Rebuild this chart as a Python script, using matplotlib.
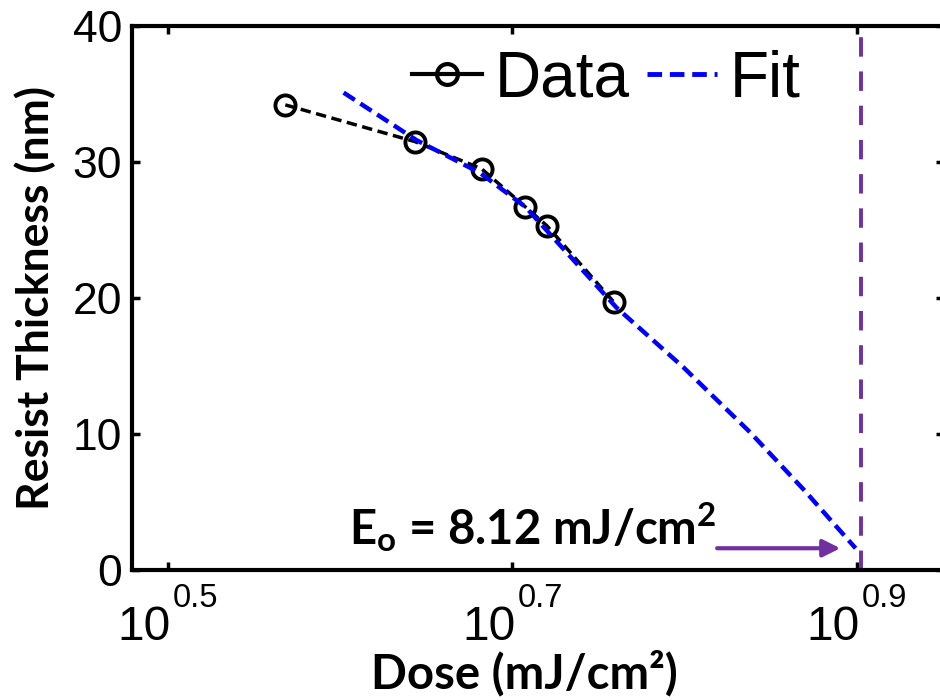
import numpy as np
import matplotlib.pyplot as plt
from matplotlib.lines import Line2D

# valores
dosis = [3.70, 4.40, 4.81, 5.10, 5.25, 5.74]
espesor = [34.2, 31.5, 29.5, 26.7, 25.3, 19.7]

ajuste_dosis = [4.00, 4.41, 4.80, 5.10, 5.76, 6.30, 6.89, 7.40, 7.93]
ajuste_espesor = [35.1, 31.6, 29.2, 26.7, 19.3, 14.9, 10.1, 5.9, 1.6]

e0_linea = 7.99
flecha_x = [6.59, 7.77]
flecha_y = 1.6
texto_x = 4.03
texto_y = 1.85

xticks = [10 ** 0.5, 10 ** 0.7, 10 ** 0.9]
xtick_exp = ['0.5', '0.7', '0.9']
yticks = [0, 10, 20, 30, 40]

plt.rcParams['font.family'] = ['Liberation Sans', 'DejaVu Sans']

morado = '#7030A0'

fig = plt.figure(figsize=(9.4, 7), dpi=100)
ax = fig.add_axes([132 / 940, 130 / 700, (944 - 132) / 940, 544 / 700])

ax.plot(dosis, espesor, color='black', linestyle='--', linewidth=2.5, dashes=(3, 1.6),
        marker='o', markersize=14.5, markerfacecolor='none', markeredgewidth=2.8)
ax.plot(ajuste_dosis, ajuste_espesor, color='blue', linestyle='--', linewidth=3.2,
        dashes=(3, 1.5))

ax.plot([e0_linea, e0_linea], [0, 40], color=morado, linestyle='--', linewidth=2.8,
        dashes=(5, 3.8))
ax.annotate('', xy=(flecha_x[1], flecha_y), xytext=(flecha_x[0], flecha_y),
            arrowprops=dict(arrowstyle='-|>', color=morado, lw=3, mutation_scale=26,
                            shrinkA=0, shrinkB=0))

ax.text(texto_x, texto_y, r'E$_\mathregular{o}$ = 8.12 mJ/cm$^\mathregular{2}$',
        family=['Lato', 'DejaVu Sans'], fontweight='bold', fontsize=34)

ax.set_xscale('log')
ax.set_xlim(10 ** 0.4792, 10 ** 0.9506)
ax.set_ylim(0, 40)
ax.minorticks_off()
ax.set_xticks(xticks)
ax.set_xticklabels([])
ax.set_yticks(yticks)

# etiquetas 10^x a mano
trans = ax.get_xaxis_transform()
for xt, e in zip(xticks, xtick_exp):
    ax.text(xt * 1.004, -0.1287, '10', transform=trans, ha='right', va='baseline',
            fontsize=34.5, clip_on=False)
    ax.text(xt * 1.007, -0.068, e, transform=trans, ha='left', va='baseline',
            fontsize=23.5, clip_on=False)

ax.tick_params(direction='in', top=True, right=True, length=6, width=2.5,
               labelsize=32)
ax.tick_params(axis='y', pad=7)
for s in ax.spines.values():
    s.set_linewidth(3)

ax.set_xlabel('Dose (mJ/cm²)', family=['Lato', 'DejaVu Sans'], fontweight='bold',
              fontsize=34)
ax.xaxis.set_label_coords((524 - 132) / 812, -0.146)
ax.set_ylabel('Resist Thickness (nm)', family=['Lato', 'DejaVu Sans'],
              fontweight='bold', fontsize=32, labelpad=12)

handles = [
    Line2D([], [], color='black', linewidth=3, marker='o', markersize=15,
           markerfacecolor='none', markeredgewidth=3),
    Line2D([], [], color='blue', linestyle='--', linewidth=3.5, dashes=(3, 1.6)),
]
ax.legend(handles, ['Data', 'Fit'], loc='center', bbox_to_anchor=(0.584, 0.902),
          ncol=2, frameon=False, fontsize=46, handlelength=1.1, handletextpad=0.2,
          columnspacing=0.27, borderpad=0, borderaxespad=0)

fig.savefig('out.png', dpi=100)
